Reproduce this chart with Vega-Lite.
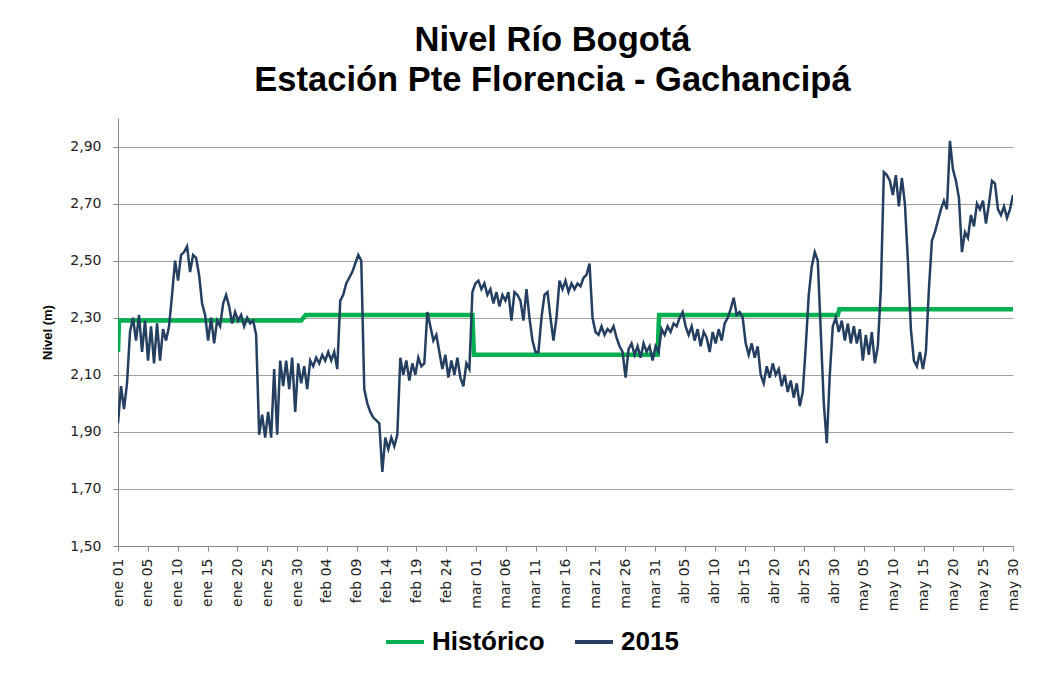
{
  "$schema": "https://vega.github.io/schema/vega-lite/v6.json",
  "width": 895,
  "height": 428,
  "autosize": {"type": "none"},
  "padding": {"left": 118, "top": 118, "right": 31, "bottom": 130},
  "background": "white",
  "config": {
    "view": {"stroke": null},
    "font": "DejaVu Sans",
    "axisX": {"labelOverlap": false},
    "locale": {
      "number": {"decimal": ",", "thousands": ".", "grouping": [3], "currency": ["", " €"]},
      "time": {
        "dateTime": "%A, %e de %B de %Y, %X",
        "date": "%d/%m/%Y",
        "time": "%H:%M:%S",
        "periods": ["AM", "PM"],
        "days": ["domingo", "lunes", "martes", "miércoles", "jueves", "viernes", "sábado"],
        "shortDays": ["dom", "lun", "mar", "mié", "jue", "vie", "sáb"],
        "months": ["enero", "febrero", "marzo", "abril", "mayo", "junio", "julio", "agosto", "septiembre", "octubre", "noviembre", "diciembre"],
        "shortMonths": ["ene", "feb", "mar", "abr", "may", "jun", "jul", "ago", "sep", "oct", "nov", "dic"]
      }
    }
  },
  "title": {
    "text": ["Nivel Río Bogotá", "Estación Pte Florencia - Gachancipá"],
    "font": "Liberation Sans",
    "fontSize": 34.5,
    "fontWeight": "bold",
    "color": "#000000",
    "anchor": "middle",
    "dx": -13,
    "offset": -7,
    "lineHeight": 40,
    "baseline": "alphabetic"
  },
  "datasets": {
    "hist": [
      {"t": "2015-01-01T00:00", "v": 2.18},
      {"t": "2015-01-01T04:00", "v": 2.29},
      {"t": "2015-01-31T12:00", "v": 2.29},
      {"t": "2015-02-01T06:00", "v": 2.31},
      {"t": "2015-03-01T00:00", "v": 2.31},
      {"t": "2015-03-01T06:00", "v": 2.17},
      {"t": "2015-03-31T20:00", "v": 2.17},
      {"t": "2015-04-01T02:00", "v": 2.31},
      {"t": "2015-04-30T20:00", "v": 2.31},
      {"t": "2015-05-01T02:00", "v": 2.33},
      {"t": "2015-05-30T00:00", "v": 2.33}
    ],
    "y2015": [
      {"t": "2015-01-01T00:00", "v": 1.93}, {"t": "2015-01-01T12:00", "v": 2.06},
      {"t": "2015-01-02T00:00", "v": 1.98}, {"t": "2015-01-02T12:00", "v": 2.07},
      {"t": "2015-01-03T00:00", "v": 2.25}, {"t": "2015-01-03T12:00", "v": 2.30},
      {"t": "2015-01-04T00:00", "v": 2.22}, {"t": "2015-01-04T12:00", "v": 2.31},
      {"t": "2015-01-05T00:00", "v": 2.18}, {"t": "2015-01-05T12:00", "v": 2.29},
      {"t": "2015-01-06T00:00", "v": 2.15}, {"t": "2015-01-06T12:00", "v": 2.27},
      {"t": "2015-01-07T00:00", "v": 2.14}, {"t": "2015-01-07T12:00", "v": 2.28},
      {"t": "2015-01-08T00:00", "v": 2.15}, {"t": "2015-01-08T12:00", "v": 2.26},
      {"t": "2015-01-09T00:00", "v": 2.22}, {"t": "2015-01-09T12:00", "v": 2.27},
      {"t": "2015-01-10T00:00", "v": 2.38}, {"t": "2015-01-10T12:00", "v": 2.50},
      {"t": "2015-01-11T00:00", "v": 2.43}, {"t": "2015-01-11T12:00", "v": 2.52},
      {"t": "2015-01-12T00:00", "v": 2.53}, {"t": "2015-01-12T12:00", "v": 2.55},
      {"t": "2015-01-13T00:00", "v": 2.46}, {"t": "2015-01-13T12:00", "v": 2.52},
      {"t": "2015-01-14T00:00", "v": 2.51}, {"t": "2015-01-14T12:00", "v": 2.45},
      {"t": "2015-01-15T00:00", "v": 2.35}, {"t": "2015-01-15T12:00", "v": 2.31},
      {"t": "2015-01-16T00:00", "v": 2.22}, {"t": "2015-01-16T12:00", "v": 2.30},
      {"t": "2015-01-17T00:00", "v": 2.21}, {"t": "2015-01-17T12:00", "v": 2.29},
      {"t": "2015-01-18T00:00", "v": 2.27}, {"t": "2015-01-18T12:00", "v": 2.35},
      {"t": "2015-01-19T00:00", "v": 2.38}, {"t": "2015-01-19T12:00", "v": 2.34},
      {"t": "2015-01-20T00:00", "v": 2.28}, {"t": "2015-01-20T12:00", "v": 2.32},
      {"t": "2015-01-21T00:00", "v": 2.29}, {"t": "2015-01-21T12:00", "v": 2.31},
      {"t": "2015-01-22T00:00", "v": 2.27}, {"t": "2015-01-22T12:00", "v": 2.30},
      {"t": "2015-01-23T00:00", "v": 2.28}, {"t": "2015-01-23T12:00", "v": 2.29},
      {"t": "2015-01-24T00:00", "v": 2.24}, {"t": "2015-01-24T12:00", "v": 1.89},
      {"t": "2015-01-25T00:00", "v": 1.96}, {"t": "2015-01-25T12:00", "v": 1.88},
      {"t": "2015-01-26T00:00", "v": 1.97}, {"t": "2015-01-26T12:00", "v": 1.88},
      {"t": "2015-01-27T00:00", "v": 2.12}, {"t": "2015-01-27T12:00", "v": 1.89},
      {"t": "2015-01-28T00:00", "v": 2.15}, {"t": "2015-01-28T12:00", "v": 2.06},
      {"t": "2015-01-29T00:00", "v": 2.15}, {"t": "2015-01-29T12:00", "v": 2.05},
      {"t": "2015-01-30T00:00", "v": 2.16}, {"t": "2015-01-30T12:00", "v": 1.97},
      {"t": "2015-01-31T00:00", "v": 2.14}, {"t": "2015-01-31T12:00", "v": 2.07},
      {"t": "2015-02-01T00:00", "v": 2.13}, {"t": "2015-02-01T12:00", "v": 2.05},
      {"t": "2015-02-02T00:00", "v": 2.15}, {"t": "2015-02-02T12:00", "v": 2.13},
      {"t": "2015-02-03T00:00", "v": 2.16}, {"t": "2015-02-03T12:00", "v": 2.14},
      {"t": "2015-02-04T00:00", "v": 2.17}, {"t": "2015-02-04T12:00", "v": 2.15},
      {"t": "2015-02-05T00:00", "v": 2.18}, {"t": "2015-02-05T12:00", "v": 2.15},
      {"t": "2015-02-06T00:00", "v": 2.18}, {"t": "2015-02-06T12:00", "v": 2.12},
      {"t": "2015-02-07T00:00", "v": 2.36}, {"t": "2015-02-07T12:00", "v": 2.38},
      {"t": "2015-02-08T00:00", "v": 2.42}, {"t": "2015-02-08T12:00", "v": 2.44},
      {"t": "2015-02-09T00:00", "v": 2.46}, {"t": "2015-02-09T12:00", "v": 2.49},
      {"t": "2015-02-10T00:00", "v": 2.52}, {"t": "2015-02-10T12:00", "v": 2.50},
      {"t": "2015-02-11T00:00", "v": 2.05}, {"t": "2015-02-11T12:00", "v": 2.00},
      {"t": "2015-02-12T00:00", "v": 1.97}, {"t": "2015-02-12T12:00", "v": 1.95},
      {"t": "2015-02-13T00:00", "v": 1.94}, {"t": "2015-02-13T12:00", "v": 1.93},
      {"t": "2015-02-14T00:00", "v": 1.76}, {"t": "2015-02-14T12:00", "v": 1.88},
      {"t": "2015-02-15T00:00", "v": 1.84}, {"t": "2015-02-15T12:00", "v": 1.88},
      {"t": "2015-02-16T00:00", "v": 1.85}, {"t": "2015-02-16T12:00", "v": 1.89},
      {"t": "2015-02-17T00:00", "v": 2.16}, {"t": "2015-02-17T12:00", "v": 2.10},
      {"t": "2015-02-18T00:00", "v": 2.15}, {"t": "2015-02-18T12:00", "v": 2.08},
      {"t": "2015-02-19T00:00", "v": 2.14}, {"t": "2015-02-19T12:00", "v": 2.10},
      {"t": "2015-02-20T00:00", "v": 2.16}, {"t": "2015-02-20T12:00", "v": 2.13},
      {"t": "2015-02-21T00:00", "v": 2.14}, {"t": "2015-02-21T12:00", "v": 2.32},
      {"t": "2015-02-22T00:00", "v": 2.27}, {"t": "2015-02-22T12:00", "v": 2.22},
      {"t": "2015-02-23T00:00", "v": 2.24}, {"t": "2015-02-23T12:00", "v": 2.18},
      {"t": "2015-02-24T00:00", "v": 2.12}, {"t": "2015-02-24T12:00", "v": 2.17},
      {"t": "2015-02-25T00:00", "v": 2.09}, {"t": "2015-02-25T12:00", "v": 2.15},
      {"t": "2015-02-26T00:00", "v": 2.10}, {"t": "2015-02-26T12:00", "v": 2.16},
      {"t": "2015-02-27T00:00", "v": 2.09}, {"t": "2015-02-27T12:00", "v": 2.06},
      {"t": "2015-02-28T00:00", "v": 2.14}, {"t": "2015-02-28T12:00", "v": 2.12},
      {"t": "2015-03-01T00:00", "v": 2.39}, {"t": "2015-03-01T12:00", "v": 2.42},
      {"t": "2015-03-02T00:00", "v": 2.43}, {"t": "2015-03-02T12:00", "v": 2.40},
      {"t": "2015-03-03T00:00", "v": 2.42}, {"t": "2015-03-03T12:00", "v": 2.38},
      {"t": "2015-03-04T00:00", "v": 2.40}, {"t": "2015-03-04T12:00", "v": 2.35},
      {"t": "2015-03-05T00:00", "v": 2.39}, {"t": "2015-03-05T12:00", "v": 2.34},
      {"t": "2015-03-06T00:00", "v": 2.38}, {"t": "2015-03-06T12:00", "v": 2.36},
      {"t": "2015-03-07T00:00", "v": 2.39}, {"t": "2015-03-07T12:00", "v": 2.29},
      {"t": "2015-03-08T00:00", "v": 2.39}, {"t": "2015-03-08T12:00", "v": 2.38},
      {"t": "2015-03-09T00:00", "v": 2.36}, {"t": "2015-03-09T12:00", "v": 2.29},
      {"t": "2015-03-10T00:00", "v": 2.40}, {"t": "2015-03-10T12:00", "v": 2.30},
      {"t": "2015-03-11T00:00", "v": 2.22}, {"t": "2015-03-11T12:00", "v": 2.18},
      {"t": "2015-03-12T00:00", "v": 2.18}, {"t": "2015-03-12T12:00", "v": 2.30},
      {"t": "2015-03-13T00:00", "v": 2.38}, {"t": "2015-03-13T12:00", "v": 2.39},
      {"t": "2015-03-14T00:00", "v": 2.30}, {"t": "2015-03-14T12:00", "v": 2.22},
      {"t": "2015-03-15T00:00", "v": 2.30}, {"t": "2015-03-15T12:00", "v": 2.43},
      {"t": "2015-03-16T00:00", "v": 2.40}, {"t": "2015-03-16T12:00", "v": 2.43},
      {"t": "2015-03-17T00:00", "v": 2.39}, {"t": "2015-03-17T12:00", "v": 2.42},
      {"t": "2015-03-18T00:00", "v": 2.40}, {"t": "2015-03-18T12:00", "v": 2.42},
      {"t": "2015-03-19T00:00", "v": 2.41}, {"t": "2015-03-19T12:00", "v": 2.44},
      {"t": "2015-03-20T00:00", "v": 2.45}, {"t": "2015-03-20T12:00", "v": 2.49},
      {"t": "2015-03-21T00:00", "v": 2.30}, {"t": "2015-03-21T12:00", "v": 2.25},
      {"t": "2015-03-22T00:00", "v": 2.24}, {"t": "2015-03-22T12:00", "v": 2.27},
      {"t": "2015-03-23T00:00", "v": 2.24}, {"t": "2015-03-23T12:00", "v": 2.26},
      {"t": "2015-03-24T00:00", "v": 2.25}, {"t": "2015-03-24T12:00", "v": 2.27},
      {"t": "2015-03-25T00:00", "v": 2.23}, {"t": "2015-03-25T12:00", "v": 2.20},
      {"t": "2015-03-26T00:00", "v": 2.18}, {"t": "2015-03-26T12:00", "v": 2.09},
      {"t": "2015-03-27T00:00", "v": 2.19}, {"t": "2015-03-27T12:00", "v": 2.21},
      {"t": "2015-03-28T00:00", "v": 2.17}, {"t": "2015-03-28T12:00", "v": 2.20},
      {"t": "2015-03-29T00:00", "v": 2.16}, {"t": "2015-03-29T12:00", "v": 2.21},
      {"t": "2015-03-30T00:00", "v": 2.18}, {"t": "2015-03-30T12:00", "v": 2.20},
      {"t": "2015-03-31T00:00", "v": 2.15}, {"t": "2015-03-31T12:00", "v": 2.20},
      {"t": "2015-04-01T00:00", "v": 2.18}, {"t": "2015-04-01T12:00", "v": 2.26},
      {"t": "2015-04-02T00:00", "v": 2.24}, {"t": "2015-04-02T12:00", "v": 2.27},
      {"t": "2015-04-03T00:00", "v": 2.25}, {"t": "2015-04-03T12:00", "v": 2.28},
      {"t": "2015-04-04T00:00", "v": 2.27}, {"t": "2015-04-04T12:00", "v": 2.30},
      {"t": "2015-04-05T00:00", "v": 2.32}, {"t": "2015-04-05T12:00", "v": 2.27},
      {"t": "2015-04-06T00:00", "v": 2.24}, {"t": "2015-04-06T12:00", "v": 2.27},
      {"t": "2015-04-07T00:00", "v": 2.22}, {"t": "2015-04-07T12:00", "v": 2.26},
      {"t": "2015-04-08T00:00", "v": 2.20}, {"t": "2015-04-08T12:00", "v": 2.25},
      {"t": "2015-04-09T00:00", "v": 2.23}, {"t": "2015-04-09T12:00", "v": 2.18},
      {"t": "2015-04-10T00:00", "v": 2.25}, {"t": "2015-04-10T12:00", "v": 2.21},
      {"t": "2015-04-11T00:00", "v": 2.26}, {"t": "2015-04-11T12:00", "v": 2.22},
      {"t": "2015-04-12T00:00", "v": 2.28}, {"t": "2015-04-12T12:00", "v": 2.30},
      {"t": "2015-04-13T00:00", "v": 2.33}, {"t": "2015-04-13T12:00", "v": 2.37},
      {"t": "2015-04-14T00:00", "v": 2.31}, {"t": "2015-04-14T12:00", "v": 2.32},
      {"t": "2015-04-15T00:00", "v": 2.30}, {"t": "2015-04-15T12:00", "v": 2.21},
      {"t": "2015-04-16T00:00", "v": 2.17}, {"t": "2015-04-16T12:00", "v": 2.21},
      {"t": "2015-04-17T00:00", "v": 2.16}, {"t": "2015-04-17T12:00", "v": 2.20},
      {"t": "2015-04-18T00:00", "v": 2.10}, {"t": "2015-04-18T12:00", "v": 2.07},
      {"t": "2015-04-19T00:00", "v": 2.13}, {"t": "2015-04-19T12:00", "v": 2.09},
      {"t": "2015-04-20T00:00", "v": 2.14}, {"t": "2015-04-20T12:00", "v": 2.10},
      {"t": "2015-04-21T00:00", "v": 2.12}, {"t": "2015-04-21T12:00", "v": 2.06},
      {"t": "2015-04-22T00:00", "v": 2.10}, {"t": "2015-04-22T12:00", "v": 2.04},
      {"t": "2015-04-23T00:00", "v": 2.08}, {"t": "2015-04-23T12:00", "v": 2.02},
      {"t": "2015-04-24T00:00", "v": 2.07}, {"t": "2015-04-24T12:00", "v": 1.99},
      {"t": "2015-04-25T00:00", "v": 2.04}, {"t": "2015-04-25T12:00", "v": 2.20},
      {"t": "2015-04-26T00:00", "v": 2.38}, {"t": "2015-04-26T12:00", "v": 2.48},
      {"t": "2015-04-27T00:00", "v": 2.53}, {"t": "2015-04-27T12:00", "v": 2.50},
      {"t": "2015-04-28T00:00", "v": 2.25}, {"t": "2015-04-28T12:00", "v": 2.00},
      {"t": "2015-04-29T00:00", "v": 1.86}, {"t": "2015-04-29T12:00", "v": 2.10},
      {"t": "2015-04-30T00:00", "v": 2.27}, {"t": "2015-04-30T12:00", "v": 2.30},
      {"t": "2015-05-01T00:00", "v": 2.25}, {"t": "2015-05-01T12:00", "v": 2.29},
      {"t": "2015-05-02T00:00", "v": 2.22}, {"t": "2015-05-02T12:00", "v": 2.28},
      {"t": "2015-05-03T00:00", "v": 2.21}, {"t": "2015-05-03T12:00", "v": 2.27},
      {"t": "2015-05-04T00:00", "v": 2.21}, {"t": "2015-05-04T12:00", "v": 2.26},
      {"t": "2015-05-05T00:00", "v": 2.15}, {"t": "2015-05-05T12:00", "v": 2.24},
      {"t": "2015-05-06T00:00", "v": 2.17}, {"t": "2015-05-06T12:00", "v": 2.25},
      {"t": "2015-05-07T00:00", "v": 2.14}, {"t": "2015-05-07T12:00", "v": 2.20},
      {"t": "2015-05-08T00:00", "v": 2.40}, {"t": "2015-05-08T12:00", "v": 2.81},
      {"t": "2015-05-09T00:00", "v": 2.80}, {"t": "2015-05-09T12:00", "v": 2.78},
      {"t": "2015-05-10T00:00", "v": 2.73}, {"t": "2015-05-10T12:00", "v": 2.80},
      {"t": "2015-05-11T00:00", "v": 2.69}, {"t": "2015-05-11T12:00", "v": 2.79},
      {"t": "2015-05-12T00:00", "v": 2.70}, {"t": "2015-05-12T12:00", "v": 2.50},
      {"t": "2015-05-13T00:00", "v": 2.26}, {"t": "2015-05-13T12:00", "v": 2.15},
      {"t": "2015-05-14T00:00", "v": 2.13}, {"t": "2015-05-14T12:00", "v": 2.18},
      {"t": "2015-05-15T00:00", "v": 2.12}, {"t": "2015-05-15T12:00", "v": 2.18},
      {"t": "2015-05-16T00:00", "v": 2.40}, {"t": "2015-05-16T12:00", "v": 2.57},
      {"t": "2015-05-17T00:00", "v": 2.60}, {"t": "2015-05-17T12:00", "v": 2.64},
      {"t": "2015-05-18T00:00", "v": 2.68}, {"t": "2015-05-18T12:00", "v": 2.71},
      {"t": "2015-05-19T00:00", "v": 2.68}, {"t": "2015-05-19T12:00", "v": 2.92},
      {"t": "2015-05-20T00:00", "v": 2.82}, {"t": "2015-05-20T12:00", "v": 2.78},
      {"t": "2015-05-21T00:00", "v": 2.72}, {"t": "2015-05-21T12:00", "v": 2.53},
      {"t": "2015-05-22T00:00", "v": 2.60}, {"t": "2015-05-22T12:00", "v": 2.58},
      {"t": "2015-05-23T00:00", "v": 2.66}, {"t": "2015-05-23T12:00", "v": 2.62},
      {"t": "2015-05-24T00:00", "v": 2.70}, {"t": "2015-05-24T12:00", "v": 2.68},
      {"t": "2015-05-25T00:00", "v": 2.71}, {"t": "2015-05-25T12:00", "v": 2.63},
      {"t": "2015-05-26T00:00", "v": 2.70}, {"t": "2015-05-26T12:00", "v": 2.78},
      {"t": "2015-05-27T00:00", "v": 2.77}, {"t": "2015-05-27T12:00", "v": 2.68},
      {"t": "2015-05-28T00:00", "v": 2.66}, {"t": "2015-05-28T12:00", "v": 2.69},
      {"t": "2015-05-29T00:00", "v": 2.65}, {"t": "2015-05-29T12:00", "v": 2.68},
      {"t": "2015-05-30T00:00", "v": 2.73}
    ]
  },
  "encoding": {
    "x": {
      "field": "t",
      "type": "temporal",
      "scale": {"domain": [{"year": 2015, "month": 1, "date": 1}, {"year": 2015, "month": 5, "date": 30}]},
      "axis": {
        "title": null,
        "format": "%b %d",
        "formatType": "time",
        "labelAngle": 270,
        "labelFont": "DejaVu Sans",
        "labelFontSize": 14,
        "labelColor": "#222222",
        "labelPadding": 7,
        "labelOverlap": false,
        "labelFlush": false,
        "labelBound": false,
        "tickSize": 5,
        "tickColor": "#888888",
        "domainColor": "#888888",
        "grid": false,
        "values": [
          {"year": 2015, "month": 1, "date": 1, "hours": 0, "minutes": 0},
          {"year": 2015, "month": 1, "date": 5, "hours": 23, "minutes": 12},
          {"year": 2015, "month": 1, "date": 10, "hours": 22, "minutes": 24},
          {"year": 2015, "month": 1, "date": 15, "hours": 21, "minutes": 36},
          {"year": 2015, "month": 1, "date": 20, "hours": 20, "minutes": 48},
          {"year": 2015, "month": 1, "date": 25, "hours": 20, "minutes": 0},
          {"year": 2015, "month": 1, "date": 30, "hours": 19, "minutes": 12},
          {"year": 2015, "month": 2, "date": 4, "hours": 18, "minutes": 24},
          {"year": 2015, "month": 2, "date": 9, "hours": 17, "minutes": 36},
          {"year": 2015, "month": 2, "date": 14, "hours": 16, "minutes": 48},
          {"year": 2015, "month": 2, "date": 19, "hours": 16, "minutes": 0},
          {"year": 2015, "month": 2, "date": 24, "hours": 15, "minutes": 12},
          {"year": 2015, "month": 3, "date": 1, "hours": 14, "minutes": 24},
          {"year": 2015, "month": 3, "date": 6, "hours": 13, "minutes": 36},
          {"year": 2015, "month": 3, "date": 11, "hours": 12, "minutes": 48},
          {"year": 2015, "month": 3, "date": 16, "hours": 12, "minutes": 0},
          {"year": 2015, "month": 3, "date": 21, "hours": 11, "minutes": 12},
          {"year": 2015, "month": 3, "date": 26, "hours": 10, "minutes": 24},
          {"year": 2015, "month": 3, "date": 31, "hours": 9, "minutes": 36},
          {"year": 2015, "month": 4, "date": 5, "hours": 8, "minutes": 48},
          {"year": 2015, "month": 4, "date": 10, "hours": 8, "minutes": 0},
          {"year": 2015, "month": 4, "date": 15, "hours": 7, "minutes": 12},
          {"year": 2015, "month": 4, "date": 20, "hours": 6, "minutes": 24},
          {"year": 2015, "month": 4, "date": 25, "hours": 5, "minutes": 36},
          {"year": 2015, "month": 4, "date": 30, "hours": 4, "minutes": 48},
          {"year": 2015, "month": 5, "date": 5, "hours": 4, "minutes": 0},
          {"year": 2015, "month": 5, "date": 10, "hours": 3, "minutes": 12},
          {"year": 2015, "month": 5, "date": 15, "hours": 2, "minutes": 24},
          {"year": 2015, "month": 5, "date": 20, "hours": 1, "minutes": 36},
          {"year": 2015, "month": 5, "date": 25, "hours": 0, "minutes": 48},
          {"year": 2015, "month": 5, "date": 30, "hours": 0, "minutes": 0}
        ]
      }
    },
    "y": {
      "field": "v",
      "type": "quantitative",
      "scale": {"domain": [1.5, 3.0], "nice": false, "zero": false},
      "axis": {
        "title": "Nivel (m)",
        "titleFont": "Liberation Sans",
        "titleFontSize": 13,
        "titleFontWeight": "bold",
        "titleColor": "#000000",
        "titlePadding": 15,
        "values": [1.5, 1.7, 1.9, 2.1, 2.3, 2.5, 2.7, 2.9],
        "format": ".2f",
        "labelFont": "DejaVu Sans",
        "labelFontSize": 14,
        "labelColor": "#222222",
        "labelPadding": 12,
        "tickSize": 5,
        "tickColor": "#888888",
        "domainColor": "#888888",
        "grid": true,
        "gridColor": "#A0A0A0",
        "gridWidth": 1
      }
    }
  },
  "layer": [
    {
      "data": {"name": "hist"},
      "mark": {"type": "line", "strokeWidth": 4.5, "clip": true},
      "encoding": {
        "color": {
          "datum": "Histórico",
          "type": "nominal",
          "scale": {"domain": ["Histórico", "2015"], "range": ["#00B050", "#243F60"]},
          "legend": {
            "title": null,
            "orient": "none",
            "direction": "horizontal",
            "legendX": 266,
            "legendY": 503,
            "padding": 0,
            "symbolType": "stroke",
            "symbolSize": 1444,
            "symbolStrokeWidth": 4,
            "labelFont": "Liberation Sans",
            "labelFontSize": 26,
            "labelFontWeight": "bold",
            "labelColor": "#000000",
            "labelOffset": 6,
            "columnPadding": 22,
            "labelLimit": 300
          }
        }
      }
    },
    {
      "data": {"name": "y2015"},
      "mark": {"type": "line", "strokeWidth": 2.5, "clip": true},
      "encoding": {
        "color": {"datum": "2015", "type": "nominal"}
      }
    }
  ]
}
